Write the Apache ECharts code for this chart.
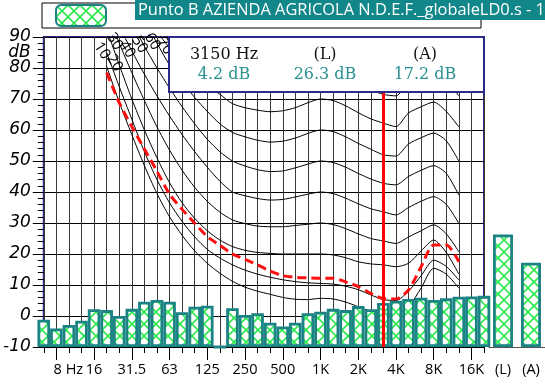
<!DOCTYPE html>
<html><head><meta charset="utf-8">
<script src="https://cdn.jsdelivr.net/npm/echarts@6/dist/echarts.min.js"></script>
<style>html,body{margin:0;padding:0;background:#fff}#c{width:545px;height:387px}</style>
</head><body><div id="c"></div>
<script>
// ---------- DATA ----------
const seriesName = 'Punto B AZIENDA AGRICOLA N.D.E.F._globaleLD0.s - 1';
const bands = ['6.3','8','10','12.5','16','20','25','31.5','40','50','63','80','100','125','160','200','250','315','400','500','630','800','1K','1.25K','1.6K','2K','2.5K','3.15K','4K','5K','6.3K','8K','10K','12.5K','16K','20K'];
const tickLabels = ['','8 Hz','','','16','','','31.5','','','63','','','125','','','250','','','500','','','1K','','','2K','','','4K','','','8K','','','16K',''];
const spectrum = [-1.2,-4.0,-2.9,-1.5,2.2,1.9,0.0,2.3,4.6,5.2,4.6,1.2,3.0,3.3,-10,2.5,0.3,0.9,-2.2,-3.4,-2.2,0.9,1.4,2.3,1.9,3.2,2.2,4.2,4.9,5.5,5.9,5.2,5.7,6.2,6.3,6.5];
const totalLabels = ['(L)','(A)'];
const totalValues = [26.3, 17.2];
const cursorBand = '3.15K';
const cursorHz = 3150;
const N = null;
const threshold = [N,N,N,N,N,78.5,68.8,61.1,53.9,46.7,39.3,34.4,29.9,25.6,22.8,20,18.3,16.5,14.5,13,12.5,12.3,12.2,12.2,11,9.5,7.3,5.6,5.5,8.4,15.9,22.9,22.9,17.5,N,N];
const curveLow = [N,N,N,N,N,80.5,69,58.5,48.5,39.5,32,26,21,17,13.8,11.2,9.3,8,7,6,5.4,5.3,5.7,5.5,4.5,3,1.5,0.5,0.5,3,9,15.4,13.5,9,N,N];
const curve10 = [N,N,N,N,N,85,74,63.5,53,44,36.5,30.5,25.5,21.5,18.7,16.5,14.8,13.5,12.5,11.7,11.1,10.7,10.5,10.3,9.6,8.5,6.8,5.3,5,8,13,18,16,11.6,N,N];
const curve20 = [N,N,N,N,N,92.5,81,70,60,51,43,36.5,31.5,27.5,24.5,22.4,21.2,20.5,20.2,20,20,20,20,19.7,18.8,17.5,16.8,16.5,15.9,17,21,24.5,20.5,13.5,N,N];
const curve30 = [N,N,N,N,N,98,88,78.5,69.5,61,53.5,47,41.5,37,33.5,31,29.8,29,28.8,28.8,29.2,29.6,30,29.5,28.2,26.5,25,24.2,23.4,25.5,27.5,29.4,26.5,20.7,N,N];
const curve40 = [N,N,N,N,N,102,93.5,85.5,78,71,64.5,58.5,53,48,43.5,40,38.8,37.9,37.4,37.6,38.4,39.3,40,39.5,38,36.2,34.6,33.6,32.6,35,37,38.5,36,29.9,N,N];
const curve50 = [N,N,N,N,N,110,102,94.5,87,80,73.5,67.5,62,57,53,50,48.4,47.2,46.6,46.8,47.8,49,50,49.5,48,46,44.2,42.8,42.3,45,47,48.5,46,39,N,N];
const curve60 = [N,N,N,N,N,118,111,104,96,88,81,75.5,70.5,66,62,59.2,57.8,56.7,56.1,56.4,57.4,58.9,60,59.5,57.8,55.7,53.8,52,51.6,55.5,57.5,59,56.5,50,N,N];
const curve70 = [N,N,N,N,N,125,117,110,103,92,86.5,82,78,74.5,71.5,68.5,67.2,66.4,65.9,66.2,67.2,68.8,70,69.5,67.8,65.6,63.6,62.2,61.1,65.5,67.5,69,66,61,N,N];
const curve80 = [N,N,N,N,N,130,124,118,112,106,95,90.5,87,84,81,78.3,77.2,76.4,76,76.2,77.2,78.8,80,79.5,77.8,75.6,73,71.5,71,75.5,77.5,79,76,71,N,N];
const curve90 = [N,N,N,N,N,135,130,125,120,115,108,101,97.5,94,91,88.2,87.2,86.4,86,86.2,87.2,88.8,90,89.5,87.8,85.6,83,81.5,81,85.5,87.5,89,86,81,N,N];
const curves = [
  {name: '', data: curveLow},
  {name: '10', data: curve10},
  {name: '20', data: curve20},
  {name: '30', data: curve30},
  {name: '40', data: curve40},
  {name: '50', data: curve50},
  {name: '60', data: curve60},
  {name: '70', data: curve70},
  {name: '', data: curve80},
  {name: '', data: curve90}
];
const yMin = -10, yMax = 90;

// ---------- STYLE ----------
const TEAL = '#1b8383';
function hatch() {
  const c = document.createElement('canvas');
  c.width = 12; c.height = 12;
  const g = c.getContext('2d');
  g.fillStyle = '#fff'; g.fillRect(0, 0, 12, 12);
  g.strokeStyle = '#2de84c'; g.lineWidth = 1.6;
  g.beginPath();
  g.moveTo(-2, -2); g.lineTo(14, 14);
  g.moveTo(14, -2); g.lineTo(-2, 14);
  g.stroke();
  return c;
}
const pattern = {image: hatch(), repeat: 'repeat'};
const sh = v => (v == null ? null : v - yMin);

function curveData(arr, label) {
  let done = false;
  return arr.map(v => {
    if (v == null) return null;
    const item = {value: sh(v)};
    if (label && !done && v <= 90) {
      done = true;
      item.label = {show: true, formatter: label, position: 'inside', rotate: -58, offset: [-4, 3],
        fontSize: 15, fontFamily: 'Open Sans', color: '#000'};
    }
    return item;
  });
}

const axisFont = {fontFamily: 'Open Sans', fontSize: 14.5, color: '#000'};
const chart = echarts.init(document.getElementById('c'), null, {renderer: 'canvas'});
const series = curves.map(c => ({
  type: 'line', name: 'c' + c.name, xAxisIndex: 0, yAxisIndex: 0,
  data: curveData(c.data, c.name), symbol: 'circle', symbolSize: 0, showSymbol: true, smooth: 0.25, silent: true,
  label: {show: false},
  lineStyle: {color: '#000', width: 1}, itemStyle: {color: '#000'}, z: 1
}));
series.push({
  type: 'line', name: 'threshold', xAxisIndex: 0, yAxisIndex: 0,
  data: threshold.map(sh), symbol: 'none', smooth: 0.25, silent: true,
  lineStyle: {color: '#ff1010', width: 3, type: [9, 5]}, z: 2
});
series.push({
  type: 'bar', name: seriesName, xAxisIndex: 0, yAxisIndex: 0,
  data: spectrum.map(sh), barWidth: '100%', silent: true, z: 3,
  itemStyle: {color: pattern, borderColor: TEAL, borderWidth: 2.8},
  markLine: {silent: true, symbol: 'none', label: {show: false}, animation: false,
    lineStyle: {color: '#ff0000', width: 3, type: 'solid'},
    data: [{xAxis: cursorBand}]}
});
series.push({
  type: 'bar', name: 'totals', xAxisIndex: 2, yAxisIndex: 2,
  data: totalValues.map(sh), barWidth: 20, silent: true, z: 3,
  itemStyle: {color: pattern, borderColor: TEAL, borderWidth: 2.8}
});

const cursorIdx = bands.indexOf(cursorBand);
const infoFont = {fontFamily: 'DejaVu Serif', fontSize: 16};
const infoCols = [224, 325, 425];
const infoTop = [cursorHz + ' Hz', totalLabels[0], totalLabels[1]];
const infoBot = [spectrum[cursorIdx].toFixed(1) + ' dB', totalValues[0].toFixed(1) + ' dB', totalValues[1].toFixed(1) + ' dB'];
const graphic = [{type: 'rect', shape: {x: 169, y: 37, width: 315, height: 55},
  style: {fill: '#fff', stroke: '#2a2a88', lineWidth: 2}, z: 100}];
infoCols.forEach((x, k) => {
  graphic.push({type: 'text', x: x, y: 55, z: 101, style: Object.assign({text: infoTop[k], fill: '#111', align: 'center', verticalAlign: 'middle'}, infoFont)});
  graphic.push({type: 'text', x: x, y: 75, z: 101, style: Object.assign({text: infoBot[k], fill: '#2a9090', align: 'center', verticalAlign: 'middle'}, infoFont)});
});

const yLabelStyle = {margin: 13, fontFamily: 'DejaVu Sans', fontStyle: 'italic', fontSize: 17, color: '#000'};
chart.setOption({
  animation: false,
  backgroundColor: '#fff',
  title: {text: seriesName, left: 135, top: 0, padding: [2, 80, 2, 3], backgroundColor: '#11878a',
    textStyle: {color: '#fff', fontSize: 16.4, fontWeight: 'normal', fontFamily: 'Open Sans'}},
  legend: {data: [seriesName], left: 42, top: 3, itemWidth: 50, itemHeight: 21, padding: [1, 374, 1, 13],
    borderColor: '#000', borderWidth: 1, formatter: () => '', selectedMode: false, textStyle: {fontSize: 1}},
  grid: [
    {left: 42, right: 61, top: 37, bottom: 40, show: true, borderColor: '#2a2a88', borderWidth: 2, backgroundColor: '#fff'},
    {left: 489, width: 58, top: 37, bottom: 40}
  ],
  xAxis: [
    {type: 'category', gridIndex: 0, data: bands, boundaryGap: false,
      axisLine: {show: false}, axisTick: {show: true, interval: 0, length: 6, lineStyle: {color: '#000'}},
      axisLabel: {interval: 0, margin: 15, ...axisFont,
        formatter: (v, i) => { const t = tickLabels[i]; if (t === '8 Hz') return '{a|8}{b| Hz}'; return t; },
        rich: {a: {padding: [0, 0, 0, 24], ...axisFont}, b: {...axisFont}}},
      splitLine: {show: true, interval: 0, lineStyle: {color: '#3a3a3a', width: 1}}},
    {type: 'category', gridIndex: 0, data: bands, boundaryGap: false, position: 'bottom',
      axisLine: {show: false}, axisLabel: {show: false}, splitLine: {show: false},
      axisTick: {show: true, length: 13, interval: (i) => tickLabels[i] !== '', lineStyle: {color: '#000'}}},
    {type: 'category', gridIndex: 1, data: totalLabels,
      axisLine: {show: true, lineStyle: {color: '#555', width: 1}}, axisTick: {show: false},
      axisLabel: {margin: 15, ...axisFont}}
  ],
  yAxis: [
    {type: 'value', gridIndex: 0, min: 0, max: yMax - yMin, interval: 10, position: 'left',
      axisLine: {show: false},
      axisTick: {show: true, length: 11, lineStyle: {color: '#000'}},
      minorTick: {show: true, splitNumber: 5, length: 6, lineStyle: {color: '#000'}},
      axisLabel: {formatter: v => String(v + yMin), ...yLabelStyle},
      splitLine: {show: true, lineStyle: {color: '#000', width: 1}}},
    {type: 'value', gridIndex: 0, min: 0, max: yMax - yMin, interval: 5, position: 'left', offset: 0,
      axisLine: {show: false}, axisTick: {show: false}, splitLine: {show: false},
      axisLabel: {formatter: v => (v + yMin === 85 ? 'dB' : ''), ...yLabelStyle}},
    {type: 'value', gridIndex: 1, min: 0, max: yMax - yMin, show: false}
  ],
  graphic: graphic,
  series: series
});
</script></body></html>
